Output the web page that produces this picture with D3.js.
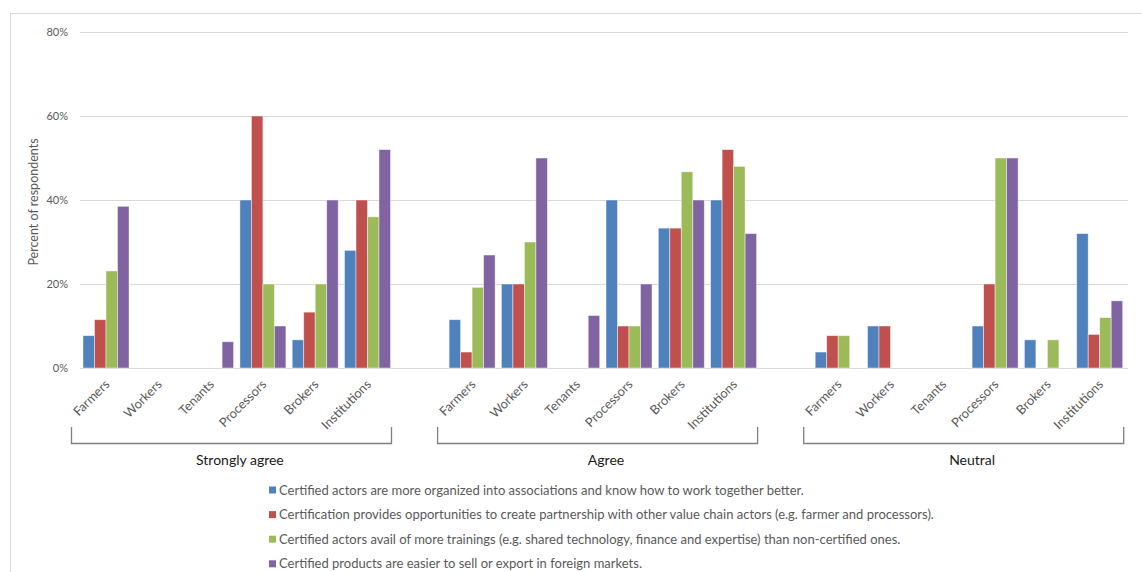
<!DOCTYPE html>
<html>
<head>
<meta charset="utf-8">
<script src="https://cdn.jsdelivr.net/npm/d3@7"></script>
<style>
  html, body { margin: 0; padding: 0; background: #fff; }
  svg { display: block; font-family: Lato, "Open Sans", sans-serif; }
</style>
</head>
<body>
<svg id="chart" width="1142" height="572"></svg>
<script>
// ---- data ----
const groups = ["Strongly agree", "Agree", "Neutral"];
const categories = ["Farmers", "Workers", "Tenants", "Processors", "Brokers", "Institutions"];
const seriesNames = [
  "Certified actors are more organized into associations and know how to work together better.",
  "Certification provides opportunities to create partnership with other value chain actors (e.g. farmer and processors).",
  "Certified actors avail of more trainings (e.g. shared technology, finance and expertise) than non-certified ones.",
  "Certified products are easier to sell or export in foreign markets."
];
const seriesColors = ["#4F81BD", "#C0504D", "#9BBB59", "#8064A2"];
// values in %, order: Strongly agree (6 cats), Agree (6 cats), Neutral (6 cats)
const organized   = [7.7, 0, 0, 40, 6.7, 28,   11.5, 20, 0, 40, 33.3, 40,   3.8, 10, 0, 10, 6.7, 32];
const partnership = [11.5, 0, 0, 60, 13.3, 40, 3.8, 20, 0, 10, 33.3, 52,    7.7, 10, 0, 20, 0, 8];
const trainings   = [23.1, 0, 0, 20, 20, 36,   19.2, 30, 0, 10, 46.7, 48,   7.7, 0, 0, 50, 6.7, 12];
const export_     = [38.5, 0, 6.25, 10, 40, 52, 26.9, 50, 12.5, 20, 40, 32, 0, 0, 0, 50, 0, 16];
const seriesValues = [organized, partnership, trainings, export_];
const yTicks = [0, 20, 40, 60, 80];

// ---- layout ----
const svg = d3.select("#chart");
const plotLeft = 80, plotRight = 1126, gridRight = 1128;
const yTop = 32, yBottom = 368;

// slots: 6 categories per group with an empty slot between groups
const slots = [];
groups.forEach((g, gi) => {
  categories.forEach(c => slots.push(g + "|" + c));
  if (gi < groups.length - 1) slots.push("gap" + gi);
});

const x = d3.scaleBand().domain(slots).range([plotLeft, plotRight]).padding(0);
const xs = d3.scaleBand().domain(d3.range(seriesValues.length))
  .range([3, x.bandwidth() - 3.3]).padding(0);
const y = d3.scaleLinear().domain([0, 80]).range([yBottom, yTop]);

// chart border (top + left, continuing off-canvas)
svg.append("rect").attr("x", 10.5).attr("y", 13.5).attr("width", 1200).attr("height", 700)
  .attr("fill", "none").attr("stroke", "#d9d9d9").attr("stroke-width", 1);

// gridlines
svg.append("g").selectAll("line").data(yTicks).join("line")
  .attr("x1", plotLeft).attr("x2", gridRight)
  .attr("y1", d => Math.round(y(d)) + 0.5).attr("y2", d => Math.round(y(d)) + 0.5)
  .attr("stroke", "#d9d9d9").attr("stroke-width", 1);

// y axis labels
const yAxis = d3.axisLeft(y).tickValues(yTicks).tickFormat(d => d + "%").tickSize(0).tickPadding(0);
const ya = svg.append("g").attr("transform", `translate(68,0)`).call(yAxis);
ya.select(".domain").remove();
ya.selectAll("text").attr("fill", "#595959").style("font-size", "11px")
  .style("font-family", "Lato, 'Open Sans', sans-serif");

// y title
svg.append("text")
  .attr("transform", `translate(38,${(yTop + yBottom) / 2 + 2}) rotate(-90)`)
  .attr("text-anchor", "middle").attr("fill", "#595959").style("font-size", "12.5px")
  .text("Percent of respondents");

// bars
const barData = [];
groups.forEach((g, gi) => {
  categories.forEach((c, ci) => {
    seriesValues.forEach((vals, si) => {
      const v = vals[gi * categories.length + ci];
      if (v > 0) barData.push({ slot: g + "|" + c, si, v });
    });
  });
});
svg.append("g").selectAll("rect").data(barData).join("rect")
  .attr("x", d => x(d.slot) + xs(d.si))
  .attr("width", xs.bandwidth())
  .attr("y", d => y(d.v))
  .attr("height", d => y(0) - y(d.v))
  .attr("fill", d => seriesColors[d.si])
  .attr("stroke", "rgba(255,255,255,0.55)").attr("stroke-width", 0.8);

// category labels (rotated)
const catLabels = [];
groups.forEach(g => categories.forEach(c => catLabels.push({ slot: g + "|" + c, c })));
svg.append("g").selectAll("text").data(catLabels).join("text")
  .attr("transform", d => `translate(${x(d.slot) + x.bandwidth() / 2 + 1},${yBottom + 14}) rotate(-45)`)
  .attr("text-anchor", "end").attr("dy", "0.35em")
  .attr("fill", "#595959").style("font-size", "12.8px")
  .text(d => d.c);

// group brackets + labels
groups.forEach((g, gi) => {
  const gStart = x(g + "|" + categories[0]);
  const gEnd = x(g + "|" + categories[categories.length - 1]) + x.bandwidth();
  const x0 = gStart - 9;
  const x1 = x0 + 320;
  svg.append("path")
    .attr("d", `M${x0 + 0.5},427 V443.5 H${x1 + 0.5} V427`)
    .attr("fill", "none").attr("stroke", "#7f7f7f").attr("stroke-width", 1.3);
  svg.append("text")
    .attr("x", (gStart + gEnd) / 2 + 3).attr("y", 465)
    .attr("text-anchor", "middle").attr("fill", "#1a1a1a").style("font-size", "14px")
    .text(g);
});

// legend
const legend = svg.append("g").attr("transform", "translate(269,0)");
seriesNames.forEach((name, i) => {
  const cy = 490 + i * 24.6;
  legend.append("rect").attr("x", 0).attr("y", cy - 3.5).attr("width", 7).attr("height", 7)
    .attr("fill", seriesColors[i]);
  legend.append("text").attr("x", 10).attr("y", cy).attr("dy", "0.35em")
    .attr("fill", "#595959").style("font-size", "13px").text(name);
});
</script>
</body>
</html>
